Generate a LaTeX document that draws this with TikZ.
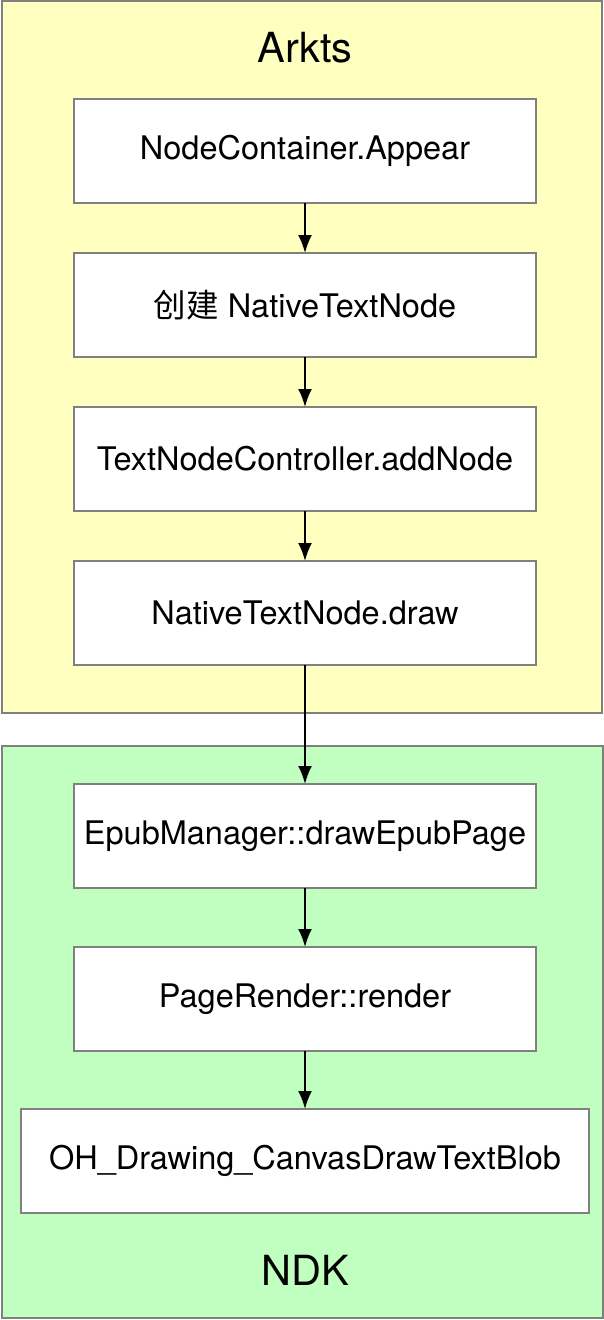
\documentclass[tikz,border=0pt]{standalone}
\usepackage{fontspec}
\setmainfont{TeX Gyre Heros}
\newfontfamily\cjk{Noto Sans CJK SC}
\usetikzlibrary{positioning,backgrounds,arrows.meta}
\definecolor{arktsYellow}{HTML}{FFFFC0}
\definecolor{ndkGreen}{HTML}{C0FFC0}
\definecolor{edgeGray}{HTML}{808080}
\tikzset{
	layerbox/.style={
		draw=edgeGray,
		line width=2pt,
		inner sep=0pt
	},
	stepbox/.style={
		draw=edgeGray,
		line width=2pt,
		fill=white,
		minimum width=462pt,
		minimum height=104pt,
		inner sep=0pt,
		outer sep=0pt,
		font=\fontsize{32.5}{38}\selectfont
	},
	layerTitle/.style={font=\fontsize{41.5}{48}\selectfont, inner sep=0pt},
	stepFlow/.style={-{Latex[length=18pt,width=14pt]}, line width=2pt}
}
\begin{document}
\begin{tikzpicture}[x=1pt, y=1pt]
	\useasboundingbox (0,0) rectangle (604,-1320);

	% Arkts side
	\node[layerTitle] (arktsTitle) at (305,-48) {Arkts};
	\node[stepbox] (appear) at (305,-151) {NodeContainer.Appear};
	\node[stepbox, below=50pt of appear] (create) {{\cjk 创建} NativeTextNode};
	\node[stepbox, below=50pt of create] (addnode) {TextNodeController.addNode};
	\node[stepbox, below=50pt of addnode] (nativedraw) {NativeTextNode.draw};

	% NDK side
	\node[stepbox, below=119pt of nativedraw] (epub) {EpubManager::drawEpubPage};
	\node[stepbox, below=59pt of epub] (render) {PageRender::render};
	\node[stepbox, below=58pt of render, minimum width=568pt] (blob) {OH\_Drawing\_CanvasDrawTextBlob};
	\node[layerTitle] (ndkTitle) at (305,-1270) {NDK};

	% Flows
	\draw[stepFlow] (appear) -- (create);
	\draw[stepFlow] (create) -- (addnode);
	\draw[stepFlow] (addnode) -- (nativedraw);
	\draw[stepFlow] (nativedraw) -- (epub);
	\draw[stepFlow] (epub) -- (render);
	\draw[stepFlow] (render) -- (blob);

	% Layers
	\begin{scope}[on background layer]
		\node[layerbox, fill=arktsYellow, minimum width=600pt, minimum height=712pt] (arkts) at (302,-357) {};
		\node[layerbox, fill=ndkGreen, minimum width=601pt, minimum height=572pt] (ndk) at (302.5,-1032) {};
	\end{scope}

\end{tikzpicture}
\end{document}
